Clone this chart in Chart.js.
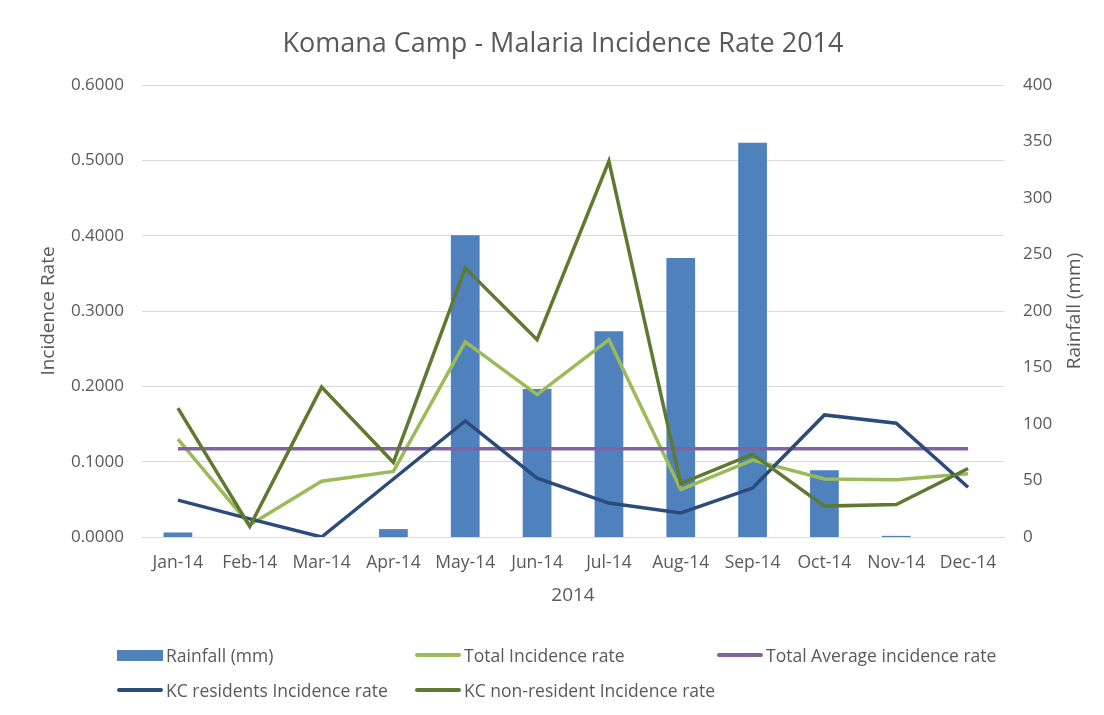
<!DOCTYPE html>
<html>
<head>
<meta charset="utf-8">
<script src="https://cdn.jsdelivr.net/npm/chart.js@4.4.1/dist/chart.umd.min.js"></script>
<style>
  html, body { margin: 0; padding: 0; background: #ffffff; }
  #wrap { position: relative; width: 1104px; height: 715px; overflow: hidden; }
  #c { position: absolute; left: 0; top: 0; }
  #legend { position: absolute; left: 0; top: 0; width: 1104px; height: 715px; pointer-events: none;
            font-family: 'Open Sans', sans-serif; font-size: 17.5px; color: #595959; }
  .li { position: absolute; display: flex; align-items: center; white-space: nowrap; transform: translateY(-50%); }
  .sw { display: inline-block; width: 46px; margin-right: 3px; }
</style>
</head>
<body>
<div id="wrap">
  <canvas id="c" width="1104" height="715"></canvas>
  <div id="legend"></div>
</div>
<script>
// ---- data ----
const months = ['Jan-14','Feb-14','Mar-14','Apr-14','May-14','Jun-14','Jul-14','Aug-14','Sep-14','Oct-14','Nov-14','Dec-14'];
const rainfall = [4, 0, 0, 7, 267, 131, 182, 247, 349, 59, 1, 0];
const totalIncidence = [0.130, 0.016, 0.074, 0.087, 0.259, 0.189, 0.262, 0.063, 0.102, 0.077, 0.076, 0.084];
const totalAverage = [0.117, 0.117, 0.117, 0.117, 0.117, 0.117, 0.117, 0.117, 0.117, 0.117, 0.117, 0.117];
const kcResidents = [0.049, 0.024, 0.000, 0.077, 0.154, 0.078, 0.045, 0.032, 0.065, 0.162, 0.151, 0.066];
const kcNonResident = [0.171, 0.014, 0.199, 0.099, 0.357, 0.262, 0.499, 0.071, 0.110, 0.041, 0.043, 0.091];
const leftTicks = [0, 0.1, 0.2, 0.3, 0.4, 0.5, 0.6];
const rightTicks = [0, 50, 100, 150, 200, 250, 300, 350, 400];

const chartTitle = 'Komana Camp - Malaria Incidence Rate 2014';
const xTitle = '2014';
const leftTitle = 'Incidence Rate';
const rightTitle = 'Rainfall (mm)';

const TEXT = '#595959';
const GRID = '#d9d9d9';
const FONT = "'Open Sans', sans-serif";

Chart.defaults.font.family = FONT;
Chart.defaults.color = TEXT;

const textPlugin = {
  id: 'textPlugin',
  afterDraw(chart) {
    const ctx = chart.ctx;
    const ca = chart.chartArea;
    ctx.save();
    ctx.fillStyle = TEXT;
    ctx.textAlign = 'center';
    ctx.textBaseline = 'middle';
    ctx.font = "27px " + FONT;
    ctx.fillText(chartTitle, 563, 44);
    ctx.font = "19px " + FONT;
    ctx.translate(1075, (ca.top + ca.bottom) / 2);
    ctx.rotate(-Math.PI / 2);
    ctx.fillText(rightTitle, 0, 0);
    ctx.restore();
  }
};

const chart = new Chart(document.getElementById('c'), {
  data: {
    labels: months,
    datasets: [
      { type: 'bar', label: 'Rainfall (mm)', data: rainfall, yAxisID: 'y1',
        backgroundColor: '#4f81bd', borderWidth: 0, barPercentage: 0.4, categoryPercentage: 1.0, order: 10 },
      { type: 'line', label: 'Total Incidence rate', data: totalIncidence, yAxisID: 'y',
        borderColor: '#9bbb59', backgroundColor: '#9bbb59', borderWidth: 3.5, pointRadius: 0, tension: 0, order: 4 },
      { type: 'line', label: 'Total Average incidence rate', data: totalAverage, yAxisID: 'y',
        borderColor: '#8064a2', backgroundColor: '#8064a2', borderWidth: 3.5, pointRadius: 0, tension: 0, order: 3 },
      { type: 'line', label: 'KC residents Incidence rate', data: kcResidents, yAxisID: 'y',
        borderColor: '#2b4c7a', backgroundColor: '#2b4c7a', borderWidth: 3.5, pointRadius: 0, tension: 0, order: 2 },
      { type: 'line', label: 'KC non-resident Incidence rate', data: kcNonResident, yAxisID: 'y',
        borderColor: '#5f7a30', backgroundColor: '#5f7a30', borderWidth: 3.5, pointRadius: 0, tension: 0, order: 1 }
    ]
  },
  options: {
    responsive: false,
    animation: false,
    devicePixelRatio: 1,
    layout: { padding: { left: 0, right: 0, top: 85, bottom: 98 } },
    plugins: { legend: { display: false }, title: { display: false }, tooltip: { enabled: false } },
    scales: {
      x: {
        grid: { display: false, drawTicks: false },
        border: { display: true, color: GRID, width: 1 },
        ticks: { padding: 16, font: { size: 17.5 }, color: TEXT, maxRotation: 0, autoSkip: false },
        title: { display: true, text: xTitle, font: { size: 19 }, color: TEXT, padding: { top: 0, bottom: 10 } },
        afterFit(s) { s.height = 80; }
      },
      y: {
        position: 'left', min: 0, max: 0.6,
        afterBuildTicks(s) { s.ticks = leftTicks.map(v => ({ value: v })); },
        grid: { color: GRID, lineWidth: 1, drawTicks: false },
        border: { display: false },
        ticks: { padding: 18, font: { size: 17 }, color: TEXT, callback: v => Number(v).toFixed(4) },
        title: { display: true, text: leftTitle, font: { size: 19 }, color: TEXT, padding: { top: 37, bottom: 0 } },
        afterFit(s) { s.width = 142; }
      },
      y1: {
        position: 'right', min: 0, max: 400,
        afterBuildTicks(s) { s.ticks = rightTicks.map(v => ({ value: v })); },
        grid: { display: false, drawTicks: false },
        border: { display: false },
        ticks: { padding: 19, font: { size: 17 }, color: TEXT },
        afterFit(s) { s.width = 100; }
      }
    }
  },
  plugins: [textPlugin]
});

// ---- HTML legend built from the chart's datasets ----
const legendSlots = [
  { x: 117, y: 655 }, { x: 415, y: 655 }, { x: 717, y: 655 },
  { x: 117, y: 690 }, { x: 415, y: 690 }
];
const legendEl = document.getElementById('legend');
chart.data.datasets.forEach((ds, i) => {
  const slot = legendSlots[i];
  const item = document.createElement('div');
  item.className = 'li';
  item.style.left = slot.x + 'px';
  item.style.top = slot.y + 'px';
  const sw = document.createElement('span');
  sw.className = 'sw';
  if (ds.type === 'bar') { sw.style.height = '11px'; sw.style.background = ds.backgroundColor; }
  else { sw.style.height = '4px'; sw.style.background = ds.borderColor; sw.style.borderRadius = '2px'; }
  const tx = document.createElement('span');
  tx.textContent = ds.label;
  item.appendChild(sw);
  item.appendChild(tx);
  legendEl.appendChild(item);
});
</script>
</body>
</html>
